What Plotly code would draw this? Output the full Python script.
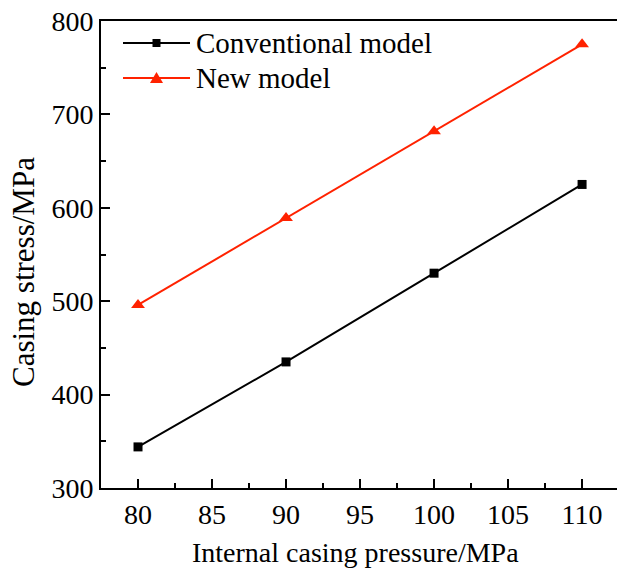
import plotly.graph_objects as go

pressure = [80, 90, 100, 110]
conventional = [344, 435, 530, 625]
new_model = [496, 589, 682, 775]
series_names = ["Conventional model", "New model"]
x_title = "Internal casing pressure/MPa"
y_title = "Casing stress/MPa"

FONT = "Liberation Serif"
RED = "#FF2200"

W, H = 617, 577
L, R, T, B = 101, 0, 21, 89
PW, PH = W - L - R, H - T - B


def px(x):
    return (x - L) / PW


def py(y):
    return (H - B - y) / PH


fig = go.Figure()
fig.add_trace(go.Scatter(x=pressure, y=conventional, mode="lines+markers", name=series_names[0],
                         line=dict(color="black", width=2),
                         marker=dict(symbol="square", size=9, color="black")))
fig.add_trace(go.Scatter(x=pressure, y=new_model, mode="lines+markers", name=series_names[1],
                         line=dict(color=RED, width=2),
                         marker=dict(symbol="triangle-up", size=12, color=RED)))

# manual legend (matching the long sample lines of the original)
shapes = []
annotations = []
for i, (name, col) in enumerate(zip(series_names, ["black", RED])):
    yy = 43 + 35 * i
    shapes.append(dict(type="line", xref="paper", yref="paper", x0=px(123), x1=px(190),
                       y0=py(yy), y1=py(yy), line=dict(color=col, width=2)))
    if i == 0:
        shapes.append(dict(type="rect", xref="paper", yref="paper", x0=px(152.5), x1=px(160.5),
                           y0=py(yy - 4), y1=py(yy + 4), fillcolor=col, line=dict(width=0)))
    else:
        path = "M {} {} L {} {} L {} {} Z".format(px(150), py(yy + 5), px(163), py(yy + 5), px(156.5), py(yy - 6))
        shapes.append(dict(type="path", xref="paper", yref="paper", path=path, fillcolor=col,
                           line=dict(width=0)))
    annotations.append(dict(text=name, xref="paper", yref="paper", x=px(194), y=py(yy),
                            xanchor="left", yanchor="middle", showarrow=False,
                            font=dict(family=FONT, size=29, color="black")))

annotations.append(dict(text=x_title, xref="paper", yref="paper", x=px(355), y=py(552),
                        xanchor="center", yanchor="middle", showarrow=False,
                        font=dict(family=FONT, size=28, color="black")))
annotations.append(dict(text=y_title, xref="paper", yref="paper", x=px(23), y=py(272),
                        xanchor="center", yanchor="middle", showarrow=False, textangle=-90,
                        font=dict(family=FONT, size=31, color="black")))

fig.update_layout(
    width=W, height=H,
    margin=dict(l=L, r=R, t=T, b=B),
    plot_bgcolor="white", paper_bgcolor="white",
    font=dict(family=FONT, size=28, color="black"),
    showlegend=False,
    shapes=shapes, annotations=annotations,
)
fig.update_xaxes(
    range=[77.5, 112.36], tick0=80, dtick=5, ticks="inside", ticklen=9, tickwidth=1.5,
    tickcolor="black", showline=True, linecolor="black", linewidth=2, mirror=True,
    showgrid=False, zeroline=False, tickfont=dict(family=FONT, size=28),
    minor=dict(ticks="inside", ticklen=5, tickwidth=1.5, dtick=2.5, tickcolor="black", showgrid=False),
)
fig.update_yaxes(
    range=[300, 800], tick0=300, dtick=100, ticks="inside", ticklen=9, tickwidth=1.5,
    tickcolor="black", showline=True, linecolor="black", linewidth=2, mirror=False,
    showgrid=False, zeroline=False, tickfont=dict(family=FONT, size=28),
    minor=dict(ticks="inside", ticklen=5, tickwidth=1.5, dtick=50, tickcolor="black", showgrid=False),
)

fig.write_html("out.html")
